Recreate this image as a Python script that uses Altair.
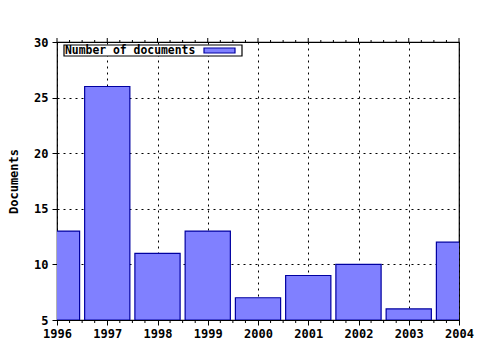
import altair as alt
import pandas as pd

years = [1996, 1997, 1998, 1999, 2000, 2001, 2002, 2003, 2004]
docs = [13, 26, 11, 13, 7, 9, 10, 6, 12]
y_ticks = [5, 10, 15, 20, 25, 30]
series_name = "Number of documents"

df = pd.DataFrame({"year": years, "docs": docs})
df["x0"] = df["year"] - 0.45
df["x1"] = df["year"] + 0.45
df["base"] = 5

minor = [y + q for y in years[:-1] for q in (0.25, 0.5, 0.75)]
minor_df = pd.DataFrame({"pos": minor})
major_df = pd.DataFrame({"pos": years})

FONT = "DejaVu Sans Mono"
FILL = "#8080ff"
EDGE = "#0000a0"
H = 278

xscale = alt.Scale(domain=[1996, 2004], nice=False, zero=False)
yscale = alt.Scale(domain=[5, 30], nice=False, zero=False)

xaxis = alt.Axis(values=years, format="d", title=None, grid=True, gridColor="black",
                 gridDash=[2, 4], gridOpacity=1, domain=False, tickColor="black",
                 tickSize=5, labelFont=FONT, labelFontWeight="bold", labelFontSize=12,
                 labelColor="black", labelPadding=3, labelFlush=False)
yaxis = alt.Axis(values=y_ticks, title="Documents", grid=True, gridColor="black",
                 gridDash=[2, 4], gridOpacity=1, domain=False, tickColor="black",
                 tickSize=5, labelFont=FONT, labelFontWeight="bold", labelFontSize=12,
                 labelColor="black", labelPadding=4, titleFont=FONT, titleFontWeight="bold",
                 titleFontSize=12, titleColor="black", titlePadding=13)

bars = alt.Chart(df).mark_bar(fill=FILL, stroke=EDGE, strokeWidth=1.2, clip=True,
                              cornerRadius=0).encode(
    x=alt.X("x0:Q", scale=xscale, axis=xaxis),
    x2="x1:Q",
    y=alt.Y("docs:Q", scale=yscale, axis=yaxis),
    y2="base:Q",
)

def tick_layer(data, y0, y1):
    return alt.Chart(data).mark_rule(color="black", strokeWidth=1).encode(
        x=alt.X("pos:Q", scale=xscale, axis=xaxis),
        y=alt.value(y0), y2=alt.value(y1))

top_major = tick_layer(major_df, -4, 0)
top_minor = tick_layer(minor_df, -2, 0)
bot_minor = tick_layer(minor_df, H, H + 3)

# legend box
leg_box = alt.Chart(pd.DataFrame({"a": [0]})).mark_rect(
    fill="white", stroke="black", strokeWidth=1.2).encode(
    x=alt.value(7), x2=alt.value(185), y=alt.value(3), y2=alt.value(14))
leg_text = alt.Chart(pd.DataFrame({"t": [series_name]})).mark_text(
    font=FONT, fontWeight="bold", fontSize=11.4, align="left", baseline="middle",
    color="black").encode(x=alt.value(8), y=alt.value(9), text="t:N")
leg_sw = alt.Chart(pd.DataFrame({"a": [0]})).mark_rect(
    fill=FILL, stroke=EDGE, strokeWidth=1.2).encode(
    x=alt.value(147), x2=alt.value(178), y=alt.value(6), y2=alt.value(11))

chart = alt.layer(bars, top_major, top_minor, bot_minor, leg_box, leg_text, leg_sw).properties(
    width=402, height=H,
    autosize=alt.AutoSizeParams(type="none"),
    padding={"left": 57, "top": 42, "right": 21, "bottom": 30},
    background="white",
).configure_view(stroke="black", strokeWidth=1.2)

chart.save("out.html", embed_options={"renderer": "svg", "actions": False})
